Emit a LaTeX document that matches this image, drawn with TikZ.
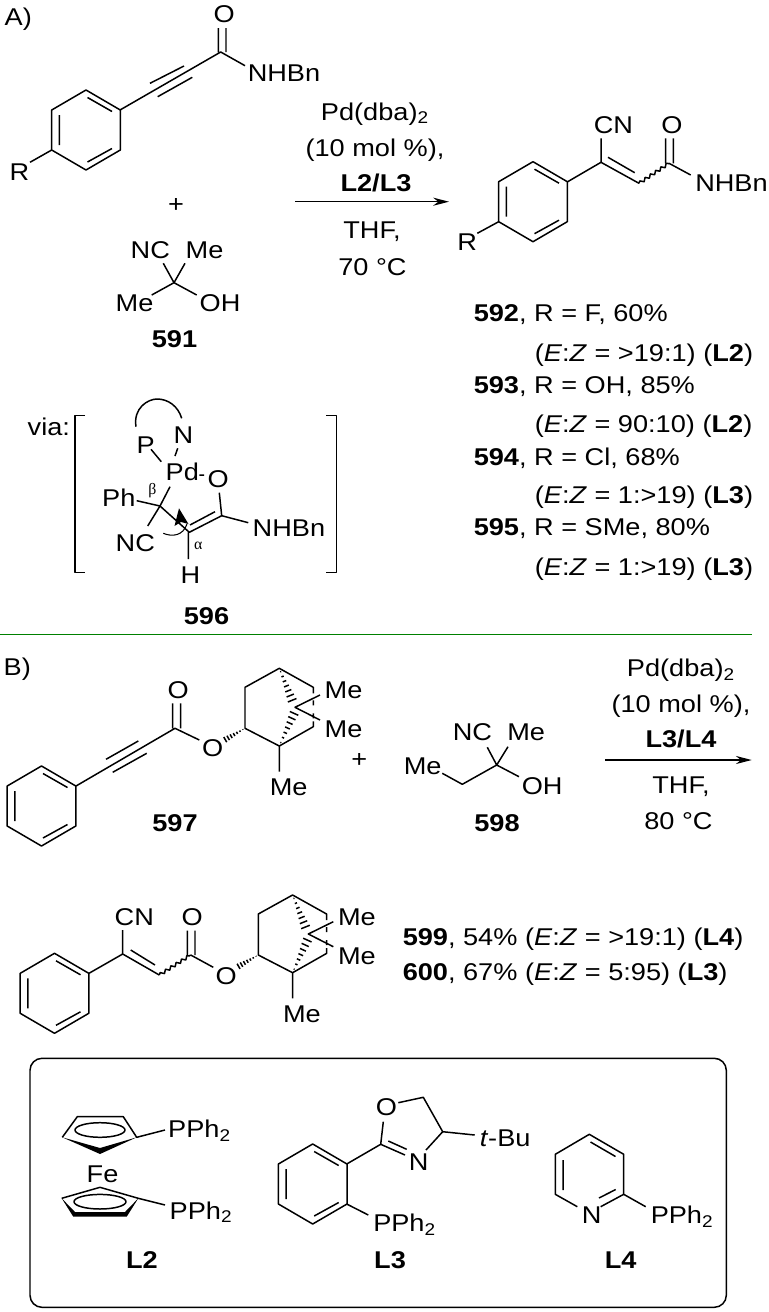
\documentclass[tikz,border=0pt]{standalone}
\usepackage{fontspec}
\setmainfont[FakeStretch=1.12]{Liberation Sans}
\newfontfamily\greekfont{Liberation Serif}
\usetikzlibrary{calc,arrows.meta,decorations.pathmorphing}
\newcommand{\hashwedge}[3]{\foreach \pos in {0.1,0.24,...,0.98}{
		\draw ($(#1)!\pos!(#2)!\pos*#3!90:(#2)$)--($(#1)!\pos!(#2)!\pos*#3!-90:(#2)$);}}
\newcommand{\subtwo}{\textsubscript{2}}
\tikzset{
	atom/.style={inner sep=0pt,anchor=base west,font=\fontsize{13.8}{16}\selectfont},
	mid/.style={atom,anchor=base},
	greek/.style={inner sep=0pt,font=\fontsize{9}{10}\greekfont},
	wavy/.style={decorate,decoration={snake,amplitude=0.9pt,segment length=3.6pt}},
	phring/.pic={
		\draw (0,-40)--(34.3,-20)--(34.3,20)--(0,40)--(-34.3,20)--(-34.3,-20)--cycle
			  (1.5,-32.5)--(26,-18.5)
			  (1.5,32)--(26,18.5)
			  (-26.6,-15)--(-26.6,15);
	},
	bornyl/.pic={
		\draw (34.3,17.7)--(0,0)--(0,-41)--(34.3,-60)--(68.3,-41)--(68.3,-35)
			  (68.3,-28)--(68.3,-23)
			  (68.3,-15)--(68.3,-10)
			  (68.3,-7)--(68.3,-1.6)--(34.3,17.7)--(34.3,43.4)
			  (75,-33.3)--(50,-21)--(75,-8.3);
		\hashwedge{34.3,-60}{48,-26}{2.8pt}
		\hashwedge{34.3,17.7}{50,-17}{2.8pt}
		\hashwedge{0,0}{-21,12}{1.8pt}
		\node[atom] (-meup) at (79,-30) {Me};
		\node[atom] (-melow) at (79,9) {Me};
		\node[atom] (-mebot) at (24,67.4) {Me};
	}
}
\begin{document}
\begin{tikzpicture}[x=0.02cm,y=-0.02cm,line width=0.85pt,line join=round,
		>={Stealth[length=9pt,width=4.6pt]}]
	\useasboundingbox (0,0) rectangle (768,1312);
	% part A, alkynamide
	\node[atom] (partA) at (4,25) {A)};
	\pic at (86,130) {phring};
	\draw (120,110)--(220.7,52)--(245,65.7)
		  (150,83.3)--(184,66)
		  (157.7,96.7)--(192.3,77.3)
		  (218.3,52)--(218.3,28)
		  (226,52)--(226,28)
		  (51.7,150)--(30,162.3);
	\node[atom] (oA) at (213,22.7) {O};
	\node[atom] (nhA) at (247,81.7) {NHBn};
	\node[atom] (rA) at (9,180) {R};
	\node[mid] (plusA) at (176,212) {+};
	% cyanohydrin
	\draw (163.3,263.3)--(174,282.7)--(185,263.3)
		  (151.7,295)--(174,282.7)--(196.7,295);
	\node[atom] (ncA) at (130,258.3) {NC};
	\node[atom] (meA) at (185,258.3) {Me};
	\node[atom] (meB) at (115,311.7) {Me};
	\node[atom] (ohA) at (199,311.7) {OH};
	\node[mid] (c591) at (174.5,347) {\textbf{591}};
	% conditions
	\coordinate (arrA) at (295,201.7);
	\coordinate (arrB) at (449,201.7);
	\draw[->] (arrA)--(arrB);
	\node[mid] (pdA) at (375,120) {Pd(dba)\subtwo};
	\node[mid] (molA) at (375,156.7) {(10 mol \%),};
	\node[mid] (ligA) at (376,191.7) {\textbf{L2/L3}};
	\node[mid] (thfA) at (372,238) {THF,};
	\node[mid] (tempA) at (372.5,275) {70 °C};
	% product
	\pic at (533,201.7) {phring};
	\draw (567.7,181.7)--(601,162.3)--(601,138.3)
		  (601,162.3)--(639,183.3)
		  (608,157.3)--(634.7,172.7)
		  (669,163.3)--(690.7,175)
		  (665.7,163.3)--(665.7,138.3)
		  (673.3,163.3)--(673.3,138.3)
		  (498.7,221.7)--(477.3,233.3);
	\draw[wavy] (639,183.3)--(669,163.3);
	\node[atom] (cnP) at (593,133.3) {CN};
	\node[atom] (oP) at (660.5,133.3) {O};
	\node[atom] (nhP) at (694.5,191.7) {NHBn};
	\node[atom] (rP) at (456.5,250.7) {R};
	% results
	\node[atom] (r1) at (473,321.7) {\textbf{592}, R = F, 60\%};
	\node[atom] (r2) at (534,361) {(\textit{E}:\textit{Z} = >19:1) (\textbf{L2})};
	\node[atom] (r3) at (473,393.3) {\textbf{593}, R = OH, 85\%};
	\node[atom] (r4) at (534,432.7) {(\textit{E}:\textit{Z} = 90:10) (\textbf{L2})};
	\node[atom] (r5) at (473,465) {\textbf{594}, R = Cl, 68\%};
	\node[atom] (r6) at (534,503.3) {(\textit{E}:\textit{Z} = 1:>19) (\textbf{L3})};
	\node[atom] (r7) at (473,535.7) {\textbf{595}, R = SMe, 80\%};
	\node[atom] (r8) at (534,575) {(\textit{E}:\textit{Z} = 1:>19) (\textbf{L3})};
	% intermediate
	\node[atom] (via) at (27,435) {via:};
	\draw (85,415.7)--(75,415.7)--(75,572.7)--(85,572.7)
		  (326,415.7)--(336.7,415.7)--(336.7,572.7)--(326,572.7);
	\draw (136,426.7) .. controls (133,408) and (148,399) .. (157,399)
		  .. controls (168,399) and (178,406) .. (181.7,418.3);
	\draw (151,449.3)--(161.3,461.7)
		  (177.7,448.3)--(175,456)
		  (199.3,475)--(204,475)
		  (170,486.7)--(160,506)--(147.7,526)
		  (136.7,500.7)--(160,506)--(189.3,532.3)--(221.7,515.7)--(219.3,492.7)
		  (221.7,515.7)--(248.3,522.7)
		  (190,525)--(215,511.7)
		  (188.3,532.3)--(188.3,559);
	\draw[line width=0.6pt] (163.3,533.3) .. controls (172,537) and (183,536) .. (187,524);
	\fill (179,508.3)--(188.5,524)--(181,522)--(174.5,526)--cycle;
	\node[atom] (pI) at (136,453.3) {P};
	\node[atom] (nI) at (173,443.3) {N};
	\node[atom] (pdI) at (165,480.7) {Pd};
	\node[atom] (oI) at (207,487.3) {O};
	\node[atom] (phI) at (101.5,506) {Ph};
	\node[atom] (ncI) at (115,551) {NC};
	\node[atom] (nhI) at (252,536.7) {NHBn};
	\node[atom] (hI) at (180,583.3) {H};
	\node[greek] (betaI) at (152.3,490.7) {β};
	\node[greek] (alphaI) at (198.3,545.7) {α};
	\node[mid] (c596) at (206.5,624) {\textbf{596}};
	\draw[green!50!black,line width=0.8pt] (0,634.3)--(752,634.3);
	% part B, ester
	\node[atom] (partB) at (3,675) {B)};
	\pic at (41.5,806) {phring};
	\draw (76,786)--(175,728.3)--(199.3,740)
		  (106,759.3)--(138.3,741)
		  (112.7,772.3)--(146.7,753.3)
		  (172.7,728.3)--(172.7,703.3)
		  (180.7,728.3)--(180.7,703.3);
	\node[atom] (oB) at (167,698.3) {O};
	\node[atom] (oC) at (201.5,756.7) {O};
	\pic (bnA) at (245,728.3) {bornyl};
	\node[mid] (plusB) at (359.3,767) {+};
	\node[mid] (c597) at (175,831) {\textbf{597}};
	% second cyanohydrin
	\draw (487.3,747.3)--(496.7,765)--(508,746.7)
		  (442.3,773.3)--(462.3,784.3)--(496.7,765)--(519,776.7);
	\node[atom] (ncB) at (452,740.7) {NC};
	\node[atom] (meC) at (506.5,740.7) {Me};
	\node[atom] (meD) at (403,774) {Me};
	\node[atom] (ohB) at (521,794.3) {OH};
	\node[mid] (c598) at (497,831) {\textbf{598}};
	\coordinate (arrC) at (605,760);
	\coordinate (arrD) at (751.7,760);
	\draw[->] (arrC)--(arrD);
	\node[mid] (pdB) at (681,676.7) {Pd(dba)\subtwo};
	\node[mid] (molB) at (681,712.7) {(10 mol \%),};
	\node[mid] (ligB) at (681,747.7) {\textbf{L3/L4}};
	\node[mid] (thfB) at (681,793.3) {THF,};
	\node[mid] (tempB) at (678.5,829.3) {80 °C};
	% product of B
	\pic at (54.5,993.3) {phring};
	\draw (89,973.3)--(122.7,954)--(122.7,930)
		  (122.7,954)--(159.3,975)
		  (130.7,950)--(155,965)
		  (187.3,955)--(187.3,930.7)
		  (195,955)--(195,930.7)
		  (190.7,955)--(213.3,967.3);
	\draw[wavy] (159.3,975)--(190.7,955);
	\node[atom] (cnQ) at (114,925.7) {CN};
	\node[atom] (oQ) at (181,925.7) {O};
	\node[atom] (oR) at (215,984) {O};
	\pic (bnB) at (258.3,955) {bornyl};
	\node[atom] (r9) at (402,945) {\textbf{599}, 54\% (\textit{E}:\textit{Z} = >19:1) (\textbf{L4})};
	\node[atom] (r10) at (402,980.7) {\textbf{600}, 67\% (\textit{E}:\textit{Z} = 5:95) (\textbf{L3})};
	% ligands
	\draw[rounded corners=0.24cm] (30,1058.3) rectangle (726.3,1307.3);
	\draw (62.3,1137.3)--(77.3,1116.7)--(123.3,1116.7)--(136.7,1137.3)--(165,1130)
		  (138.3,1198.3)--(100,1187.3)--(61.7,1198.3)
		  (138.3,1198.3)--(165,1205)
		  (100,1130) ellipse (25 and 7.3)
		  (100,1201.7) ellipse (26 and 7.3);
	\fill (62.3,1137.3)--(100,1148)--(136.7,1137.3)--(100,1154)--cycle;
	\fill (61.7,1198.3)--(73.3,1216.7)--(126.7,1216.7)--(138.3,1198.3)
		  --(125,1212)--(75,1212)--cycle;
	\node[atom] (pA) at (167.5,1137.3) {PPh\subtwo};
	\node[atom] (feA) at (86,1182.7) {Fe};
	\node[atom] (pB) at (169,1219) {PPh\subtwo};
	\node[mid] (l2) at (142,1268.3) {\textbf{L2}};
	\pic at (312.7,1184) {phring};
	\draw (346.7,1164)--(380.7,1144.3)--(383.3,1121.7)
		  (398.3,1102.7)--(423.3,1097.3)--(442.7,1131.7)--(426,1150)
		  (442.7,1131.7)--(474.7,1135)
		  (380.7,1144.3)--(405,1155)
		  (388.3,1141)--(406.7,1149.3)
		  (346.7,1204)--(368.3,1215);
	\node[atom] (oL) at (375,1115.7) {O};
	\node[atom] (nL) at (408,1170.7) {N};
	\node[atom] (tbu) at (479,1146.7) {\textit{t}-Bu};
	\node[atom] (pC) at (372.5,1231.7) {PPh\subtwo};
	\node[mid] (l3) at (390,1268.3) {\textbf{L3}};
	\draw (577.3,1206.7)--(555.3,1194.3)--(555.3,1154.3)--(589.3,1134.3)
		  --(623.7,1154.3)--(623.7,1194.3)--(600.7,1206.7)
		  (623.7,1194.3)--(645.7,1206.7)
		  (563,1160)--(563,1190)
		  (590.5,1142)--(615.5,1156.5)
		  (599,1198)--(615.7,1189.5);
	\node[atom] (nM) at (581,1223.3) {N};
	\node[atom] (pD) at (650,1223.3) {PPh\subtwo};
	\node[mid] (l4) at (620.7,1268.3) {\textbf{L4}};
\end{tikzpicture}
\end{document}
